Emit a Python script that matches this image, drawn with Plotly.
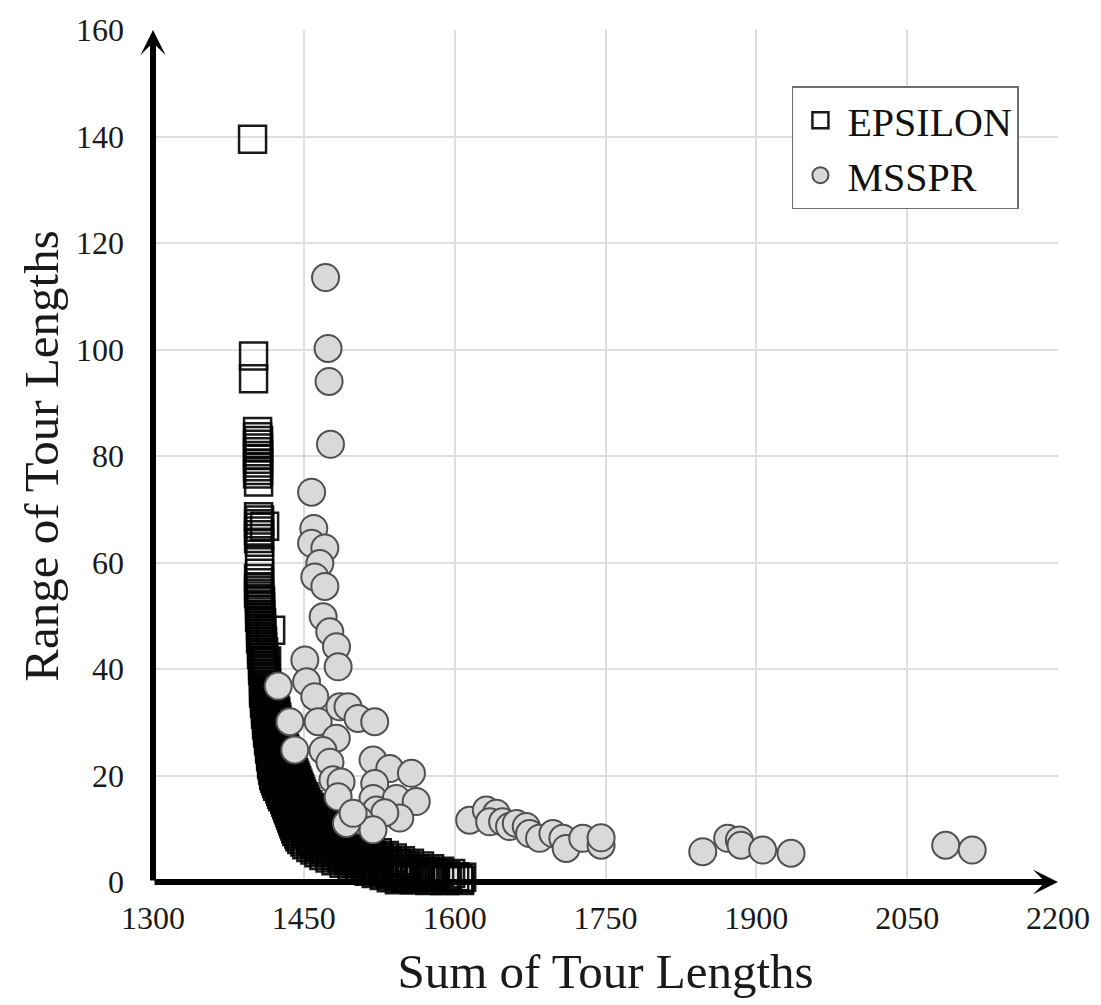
import plotly.graph_objects as go

# ---------------- data ----------------
# EPSILON solutions: (sum of tour lengths, range of tour lengths)
epsilon_points = [
    (1399, 139.5), (1400, 98.8), (1400, 94.5),
    (1404, 84.6), (1404, 83.6), (1405, 82.9), (1404, 82.2), (1405, 81.5), (1404, 80.8),
    (1405, 80.1), (1404, 79.4), (1405, 78.7), (1404, 78.0), (1405, 77.3), (1404, 76.6), (1405, 75.1),
    (1405, 68.6), (1406, 68.0), (1405, 67.3), (1411, 66.8), (1406, 66.6), (1405, 65.9),
    (1406, 65.2), (1405, 64.5), (1406, 63.8),
    (1406, 60.5), (1406, 58.0), (1405, 57.0), (1406, 56.2),
    (1405, 55.2), (1406, 54.7), (1405, 54.2), (1406, 53.7), (1406, 53.2), (1407, 52.7),
    (1406, 52.2), (1407, 51.7), (1406, 51.2), (1407, 50.7), (1407, 50.2), (1406, 49.7),
    (1407, 49.2), (1408, 48.7), (1407, 48.2), (1408, 47.7), (1417, 47.3), (1407, 47.2),
    (1408, 46.7), (1408, 46.2), (1407, 45.7), (1409, 45.2), (1408, 44.7), (1409, 44.2),
    (1408, 43.7), (1410, 43.2), (1408, 42.7), (1410, 42.2), (1409, 41.7), (1413, 41.5),
    (1411, 41.2), (1409, 40.7), (1411, 40.2), (1409, 39.7), (1412, 39.2), (1410, 38.7),
    (1412, 38.2), (1410, 37.7), (1413, 37.2), (1410, 36.7),
    (1410, 36.0), (1414, 36.0), (1418, 36.0),
    (1410, 35.5), (1414, 35.5), (1418, 35.5),
    (1411, 35.0), (1415, 35.0), (1419, 35.0),
    (1411, 34.5), (1415, 34.5), (1419, 34.5),
    (1411, 34.0), (1416, 34.0), (1420, 34.0),
    (1411, 33.5), (1416, 33.5), (1420, 33.5),
    (1412, 33.0), (1416, 33.0), (1421, 33.0),
    (1412, 32.5), (1417, 32.5), (1421, 32.5),
    (1412, 32.0), (1417, 32.0), (1422, 32.0),
    (1412, 31.5), (1417, 31.5), (1422, 31.5),
    (1413, 31.0), (1418, 31.0), (1423, 31.0),
    (1413, 30.5), (1418, 30.5), (1423, 30.5),
    (1413, 30.0), (1418, 30.0), (1424, 30.0),
    (1413, 29.5), (1419, 29.5), (1425, 29.5),
    (1414, 29.0), (1419, 29.0), (1425, 29.0),
    (1414, 28.5), (1420, 28.5), (1426, 28.5),
    (1414, 28.0), (1420, 28.0), (1427, 28.0),
    (1415, 27.5), (1421, 27.5), (1427, 27.5),
    (1415, 27.0), (1421, 27.0), (1428, 27.0),
    (1415, 26.5), (1422, 26.5), (1429, 26.5),
    (1416, 26.0), (1423, 26.0), (1430, 26.0),
    (1416, 25.5), (1423, 25.5), (1430, 25.5),
    (1416, 25.0), (1424, 25.0), (1431, 25.0),
    (1417, 24.5), (1424, 24.5), (1432, 24.5),
    (1417, 24.0), (1425, 24.0), (1433, 24.0),
    (1417, 23.5), (1425, 23.5), (1434, 23.5),
    (1418, 23.0), (1426, 23.0), (1435, 23.0),
    (1418, 22.5), (1427, 22.5), (1436, 22.5),
    (1418, 22.0), (1427, 22.0), (1437, 22.0),
    (1419, 21.5), (1428, 21.5), (1438, 21.5),
    (1419, 21.0), (1426, 21.0), (1432, 21.0), (1439, 21.0),
    (1420, 20.5), (1427, 20.5), (1433, 20.5), (1440, 20.5),
    (1420, 20.0), (1427, 20.0), (1434, 20.0), (1441, 20.0),
    (1421, 19.5), (1428, 19.5), (1435, 19.5), (1442, 19.5),
    (1422, 19.0), (1429, 19.0), (1436, 19.0), (1443, 19.0),
    (1423, 18.5), (1430, 18.5), (1437, 18.5), (1444, 18.5),
    (1424, 18.0), (1431, 18.0), (1438, 18.0), (1445, 18.0),
    (1426, 17.5), (1433, 17.5), (1440, 17.5), (1446, 17.5),
    (1427, 17.0), (1434, 17.0), (1441, 17.0), (1447, 17.0),
    (1428, 16.5), (1435, 16.5), (1442, 16.5), (1448, 16.5),
    (1429, 16.0), (1436, 16.0), (1443, 16.0), (1450, 16.0),
    (1431, 15.5), (1438, 15.5), (1444, 15.5), (1451, 15.5),
    (1432, 15.0), (1439, 15.0), (1446, 15.0), (1452, 15.0),
    (1433, 14.5), (1440, 14.5), (1447, 14.5), (1454, 14.5),
    (1434, 14.0), (1442, 14.0), (1449, 14.0), (1456, 14.0),
    (1435, 13.5), (1443, 13.5), (1451, 13.5), (1459, 13.5),
    (1436, 13.0), (1444, 13.0), (1452, 13.0), (1461, 13.0),
    (1437, 12.5), (1446, 12.5), (1455, 12.5), (1465, 12.5),
    (1438, 12.0), (1448, 12.0), (1458, 12.0), (1468, 12.0),
    (1439, 11.5), (1447, 11.5), (1455, 11.5), (1464, 11.5), (1472, 11.5),
    (1440, 11.0), (1449, 11.0), (1457, 11.0), (1466, 11.0), (1475, 11.0),
    (1441, 10.5), (1450, 10.5), (1459, 10.5), (1468, 10.5), (1477, 10.5),
    (1442, 10.0), (1452, 10.0), (1461, 10.0), (1471, 10.0), (1480, 10.0),
    (1443, 9.5), (1453, 9.5), (1463, 9.5), (1473, 9.5), (1483, 9.5),
    (1445, 9.0), (1455, 9.0), (1465, 9.0), (1476, 9.0), (1486, 9.0),
    (1446, 8.5), (1457, 8.5), (1468, 8.5), (1478, 8.5), (1489, 8.5),
    (1448, 8.0), (1457, 8.0), (1466, 8.0), (1475, 8.0), (1484, 8.0), (1493, 8.0),
    (1451, 7.5), (1460, 7.5), (1470, 7.5), (1479, 7.5), (1488, 7.5), (1498, 7.5),
    (1453, 7.0), (1463, 7.0), (1473, 7.0), (1482, 7.0), (1492, 7.0), (1502, 7.0),
    (1457, 6.5), (1467, 6.5), (1478, 6.5), (1488, 6.5), (1499, 6.5), (1509, 6.5),
    (1461, 6.0), (1472, 6.0), (1483, 6.0), (1494, 6.0), (1505, 6.0), (1516, 6.0),
    (1465, 5.5), (1477, 5.5), (1488, 5.5), (1500, 5.5), (1511, 5.5), (1523, 5.5),
    (1470, 5.0), (1482, 5.0), (1494, 5.0), (1506, 5.0), (1518, 5.0), (1530, 5.0),
    (1476, 4.5), (1488, 4.5), (1500, 4.5), (1513, 4.5), (1525, 4.5), (1538, 4.5),
    (1482, 4.0), (1495, 4.0), (1508, 4.0), (1520, 4.0), (1533, 4.0), (1546, 4.0),
    (1490, 3.5), (1503, 3.5), (1516, 3.5), (1529, 3.5), (1542, 3.5), (1555, 3.5),
    (1498, 3.0), (1511, 3.0), (1525, 3.0), (1538, 3.0), (1551, 3.0), (1565, 3.0),
    (1506, 2.5), (1520, 2.5), (1534, 2.5), (1547, 2.5), (1561, 2.5), (1575, 2.5),
    (1515, 2.0), (1529, 2.0), (1543, 2.0), (1557, 2.0), (1571, 2.0), (1585, 2.0),
    (1522, 1.6), (1537, 1.6), (1552, 1.6), (1566, 1.6), (1581, 1.6), (1596, 1.6),
    (1530, 1.2), (1545, 1.2), (1561, 1.2), (1576, 1.2), (1591, 1.2), (1600, 1.0), (1607, 0.9),
    (1537, 0.8), (1551, 0.8), (1565, 0.8), (1579, 0.8), (1593, 0.7), (1604, 0.6),
    (1545, 0.4), (1560, 0.4), (1575, 0.3), (1590, 0.3), (1605, 0.3),
]
eps_sum = [p[0] for p in epsilon_points]
eps_range = [p[1] for p in epsilon_points]

msspr_sum = [
    1471.6, 1474.1, 1475.1, 1476.5, 1457.7, 1459.9, 1457.7, 1470.9, 1465.9,
    1460.9, 1470.9, 1469.2, 1475.8, 1482.5, 1484.1, 1451.0, 1424.5, 1452.7,
    1460.9, 1436.1, 1464.2, 1485.8, 1441.0, 1482.3, 1493.9, 1503.9, 1520.5,
    1469.0, 1476.0, 1518.8, 1535.4, 1557.0, 1479.0, 1487.0, 1520.5, 1518.8,
    1542.0, 1561.8, 1522.1, 1545.4, 1530.5, 1505.6, 1518.8, 1492.4, 1484.1,
    1499.0,
    1614.9, 1631.5, 1641.5, 1634.8, 1647.7, 1654.6, 1661.3, 1671.2, 1674.5,
    1684.4, 1697.7, 1707.6, 1710.9, 1727.4, 1745.6, 1745.6,
    1846.7, 1871.5, 1883.1, 1884.8, 1906.3, 1934.5, 2088.3, 2114.7,
]
msspr_range = [
    113.5, 100.2, 94.0, 82.2, 73.2, 66.4, 63.6, 62.7, 59.8,
    57.3, 55.5, 49.8, 47.0, 44.2, 40.4, 41.7, 36.8, 37.6,
    34.8, 30.1, 30.1, 32.9, 24.8, 27.0, 32.9, 30.7, 30.1,
    24.7, 22.5, 22.9, 21.3, 20.4, 19.2, 18.8, 18.5, 15.7,
    15.7, 15.1, 13.5, 12.0, 13.0, 11.6, 9.8, 11.0, 16.0,
    12.9,
    11.6, 13.5, 12.9, 11.3, 11.3, 10.4, 11.0, 10.4, 9.1,
    8.2, 9.1, 8.2, 6.3, 8.2, 6.9, 8.3,
    5.7, 8.2, 7.9, 6.9, 6.0, 5.4, 6.9, 6.0,
]

x_ticks = [1300, 1450, 1600, 1750, 1900, 2050, 2200]
y_ticks = [0, 20, 40, 60, 80, 100, 120, 140, 160]

# ---------------- figure ----------------
FONT = "Liberation Serif"
fig = go.Figure()

fig.add_trace(go.Scatter(
    x=eps_sum, y=eps_range, mode="markers", name="EPSILON",
    cliponaxis=False,
    marker=dict(symbol="square", size=27, color="rgba(255,255,255,0)",
                line=dict(color="rgba(0,0,0,0.9)", width=2.5)),
))
fig.add_trace(go.Scatter(
    x=msspr_sum, y=msspr_range, mode="markers", name="MSSPR",
    cliponaxis=False,
    marker=dict(symbol="circle", size=27, color="#d9d9d9",
                line=dict(color="#505050", width=2)),
))

arrow = dict(xref="x", yref="y", axref="x", ayref="y", text="",
             showarrow=True, arrowhead=3, arrowwidth=6, arrowsize=0.7,
             arrowcolor="black")
fig.update_layout(
    annotations=[
        dict(arrow, x=2200, y=0, ax=1300, ay=0),
        dict(arrow, x=1300, y=160, ax=1300, ay=0),
    ]
)

fig.update_layout(
    width=1101, height=1005,
    margin=dict(l=153, r=43, t=30, b=123),
    paper_bgcolor="white", plot_bgcolor="white",
    font=dict(family=FONT, color="#1a1a1a"),
    showlegend=True,
    legend=dict(
        x=0.706, y=0.934, xanchor="left", yanchor="top",
        bgcolor="white", bordercolor="#6f6f6f", borderwidth=1.5,
        font=dict(family=FONT, size=40, color="#111111"),
        itemwidth=44, entrywidth=194, entrywidthmode="pixels",
    ),
    xaxis=dict(
        range=[1300, 2200], tickvals=x_ticks, ticktext=[str(v) for v in x_ticks],
        showgrid=True, gridcolor="#dedede", gridwidth=1.5,
        zeroline=False, showline=False, ticks="",
        tickfont=dict(family=FONT, size=32), ticklabelstandoff=14,
        title=dict(text="Sum of Tour Lengths", font=dict(family=FONT, size=49), standoff=18),
    ),
    yaxis=dict(
        range=[0, 160], tickvals=y_ticks, ticktext=[str(v) for v in y_ticks],
        showgrid=True, gridcolor="#dedede", gridwidth=1.5,
        zeroline=False, showline=False, ticks="",
        tickfont=dict(family=FONT, size=32), ticklabelstandoff=28,
        title=dict(text="Range of Tour Lengths", font=dict(family=FONT, size=49), standoff=1),
    ),
)

fig.write_html("out.html")
